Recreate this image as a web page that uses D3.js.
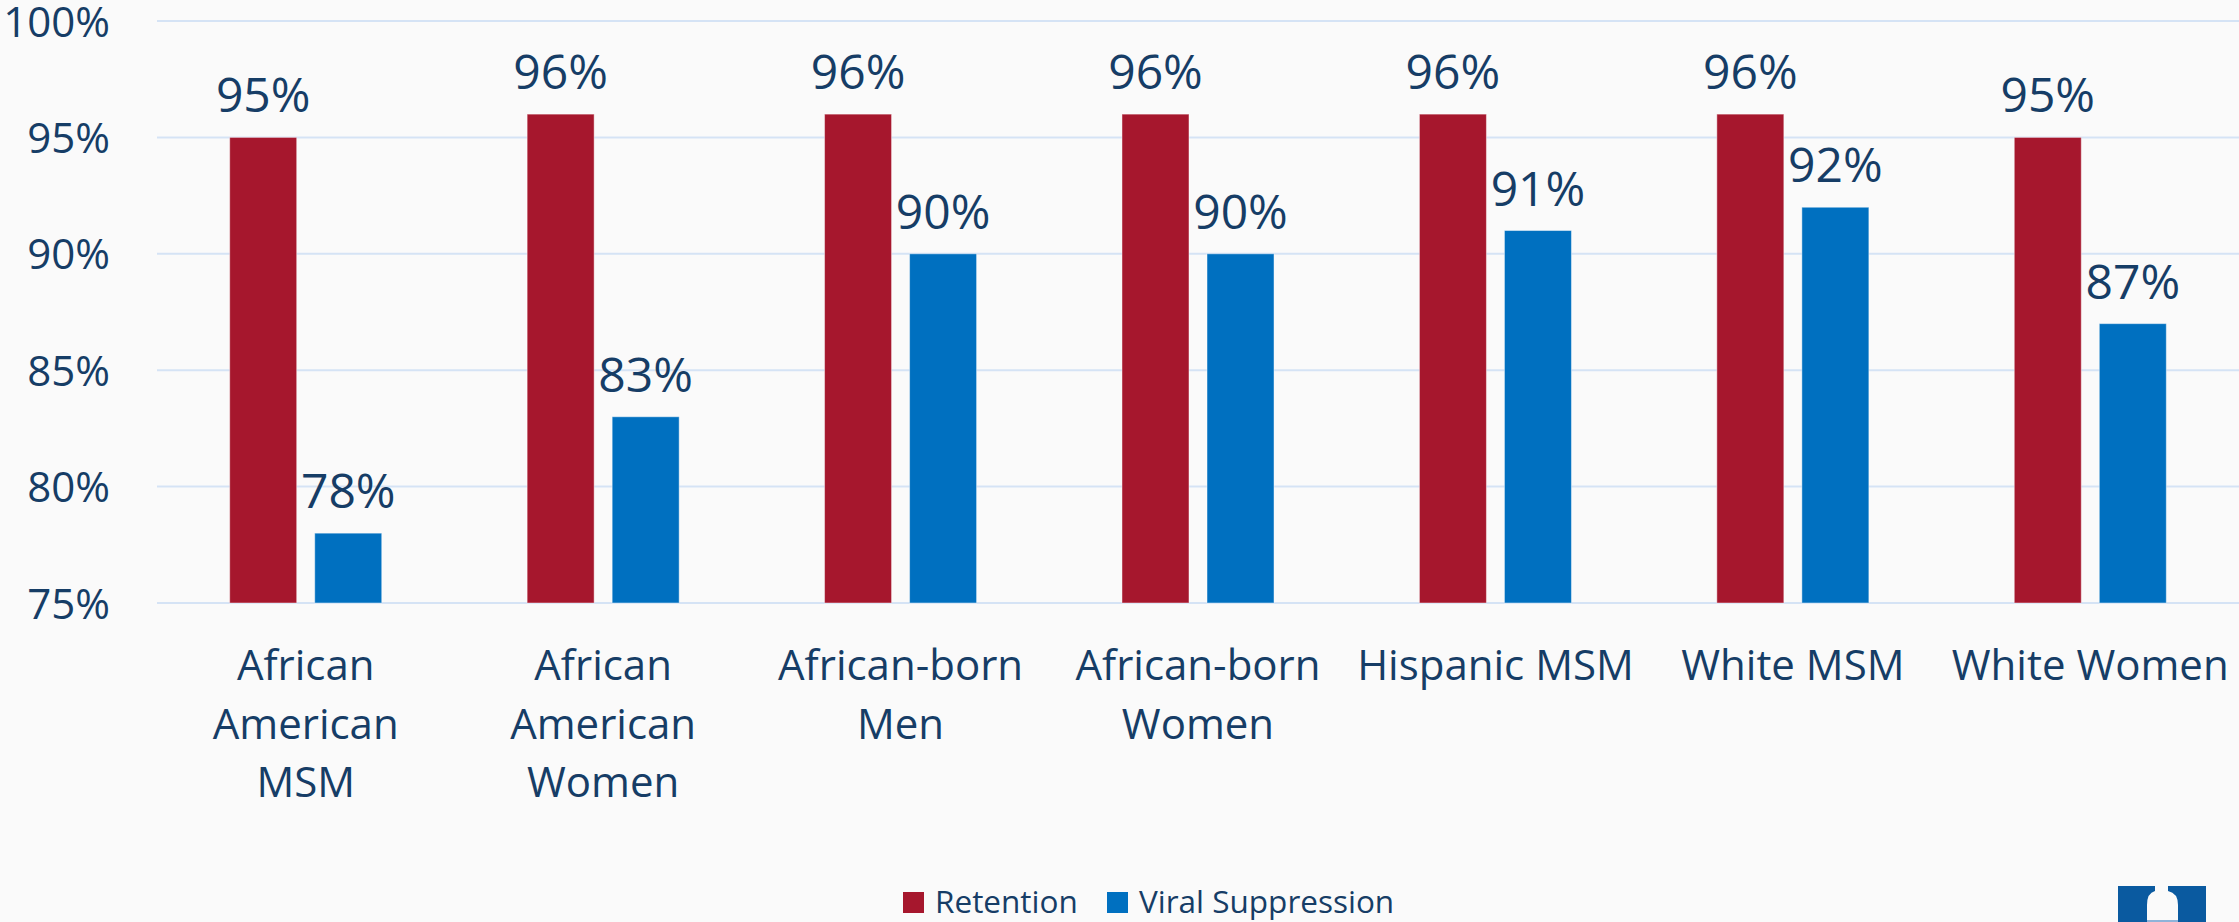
<!DOCTYPE html>
<html>
<head>
<meta charset="utf-8">
<script src="https://cdn.jsdelivr.net/npm/d3@7"></script>
<style>
  html, body { margin: 0; padding: 0; background: #fafafa; }
  svg { display: block; font-family: "Open Sans", sans-serif; }
</style>
</head>
<body>
<svg id="chart" width="2239" height="922"></svg>
<script>
// data
const categories = ["African\nAmerican\nMSM", "African\nAmerican\nWomen", "African-born\nMen",
  "African-born\nWomen", "Hispanic MSM", "White MSM", "White Women"];
const series = ["Retention", "Viral Suppression"];
const retention = [95, 96, 96, 96, 96, 96, 95];
const viralSuppression = [78, 83, 90, 90, 91, 92, 87];
const yTicks = [75, 80, 85, 90, 95, 100];

const colors = {"Retention": "#a6172d", "Viral Suppression": "#0070c0"};
const textColor = "#163d66";

const svg = d3.select("#chart");
const plotLeft = 157, plotRight = 2239, plotTop = 21, plotBottom = 603;

const x0 = d3.scaleBand().domain(categories).range([plotLeft, plotRight]).padding(0);
const x1 = d3.scaleBand().domain(series).range([0, x0.bandwidth()])
  .paddingInner(0.212).paddingOuter(0.855);
const y = d3.scaleLinear().domain([75, 100]).range([plotBottom, plotTop]);

// gridlines
svg.append("g").selectAll("line")
  .data(yTicks)
  .enter().append("line")
  .attr("x1", plotLeft).attr("x2", plotRight)
  .attr("y1", d => y(d)).attr("y2", d => y(d))
  .attr("stroke", "#d5e3f5").attr("stroke-width", 2);

// y axis labels
const yAxis = svg.append("g")
  .attr("transform", "translate(" + (plotLeft - 47) + ",0)")
  .call(d3.axisLeft(y).tickValues(yTicks).tickFormat(d => d + "%").tickSize(0).tickPadding(0));
yAxis.select(".domain").remove();
yAxis.selectAll("text")
  .attr("fill", textColor)
  .style("font-size", "42px")
  .style("font-family", "Open Sans")
  .attr("dy", "0.36em");

// bars
const rows = categories.map((c, i) => ({cat: c, vals: [
  {key: "Retention", v: retention[i]}, {key: "Viral Suppression", v: viralSuppression[i]}]}));

const groups = svg.append("g").selectAll("g")
  .data(rows)
  .enter().append("g")
  .attr("transform", d => "translate(" + x0(d.cat) + ",0)");

groups.selectAll("rect")
  .data(d => d.vals)
  .enter().append("rect")
  .attr("x", d => x1(d.key))
  .attr("y", d => y(d.v))
  .attr("width", x1.bandwidth())
  .attr("height", d => y(75) - y(d.v))
  .attr("fill", d => colors[d.key])
  .attr("stroke", "rgba(255,255,255,0.45)")
  .attr("stroke-width", 1);

groups.selectAll("text.val")
  .data(d => d.vals)
  .enter().append("text")
  .attr("class", "val")
  .attr("x", d => x1(d.key) + x1.bandwidth() / 2)
  .attr("y", d => y(d.v) - 25)
  .attr("text-anchor", "middle")
  .attr("fill", textColor)
  .style("font-size", "48px")
  .text(d => d.v + "%");

// category labels
const xAxis = svg.append("g");
xAxis.selectAll("text")
  .data(categories)
  .enter().append("text")
  .attr("x", d => x0(d) + x0.bandwidth() / 2)
  .attr("y", 680)
  .attr("text-anchor", "middle")
  .attr("fill", textColor)
  .style("font-size", "42px")
  .each(function(d) {
    const lines = d.split("\n");
    d3.select(this).selectAll("tspan")
      .data(lines)
      .enter().append("tspan")
      .attr("x", x0(d) + x0.bandwidth() / 2)
      .attr("dy", (l, i) => i === 0 ? 0 : 58.5)
      .text(l => l);
  });

// legend
const legendPos = [903, 1107];
const legend = svg.append("g").selectAll("g")
  .data(series)
  .enter().append("g")
  .attr("transform", (d, i) => "translate(" + legendPos[i] + ",892)");
legend.append("rect")
  .attr("width", 21).attr("height", 21)
  .attr("fill", d => colors[d]);
legend.append("text")
  .attr("x", 32).attr("y", 21)
  .attr("fill", textColor)
  .style("font-size", "31.5px")
  .text(d => d);

// logo fragment bottom right
const logo = svg.append("g");
logo.append("rect")
  .attr("x", 2118).attr("y", 886).attr("width", 88).attr("height", 40)
  .attr("fill", "#0a5aa0");
logo.append("path")
  .attr("d", "M2147,922 L2147,905 Q2147,893 2155,891 L2155,886 L2168,886 L2168,891 Q2178,893 2178,905 L2178,922 Z")
  .attr("fill", "#fafafa");
logo.append("line")
  .attr("x1", 2147).attr("x2", 2178).attr("y1", 921).attr("y2", 921)
  .attr("stroke", "#8fb3d9").attr("stroke-width", 2);
</script>
</body>
</html>
